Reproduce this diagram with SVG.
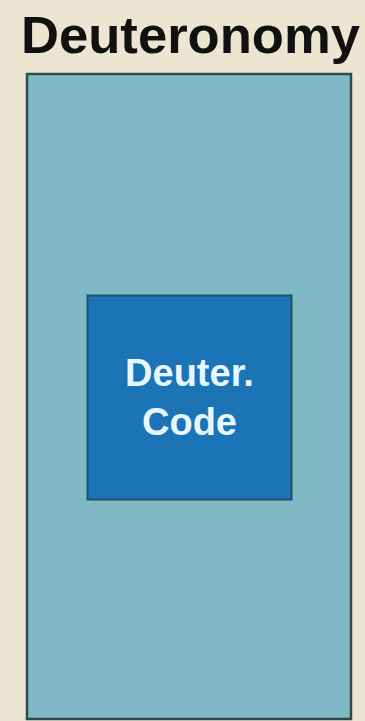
<svg xmlns="http://www.w3.org/2000/svg" width="365" height="721" viewBox="0 0 365 721">
<style>
.title{font-family:"Liberation Sans",Arial,sans-serif;font-weight:bold;fill:#111;}
.lbl{font-family:"Liberation Sans",Arial,sans-serif;font-weight:bold;fill:#E6F7FF;text-anchor:middle;}
</style>
<rect x="0" y="0" width="365" height="721" fill="#ECE5D1"/>
<text class="title" x="21" y="53" font-size="52" textLength="339" lengthAdjust="spacingAndGlyphs">Deuteronomy</text>
<g id="deuteronomy">
<rect x="27" y="74" width="324" height="645" fill="#80B8C5" stroke="#2E4A4C" stroke-width="2.5"/>
</g>
<g id="deuter-code">
<rect x="87.5" y="295.5" width="204" height="204" fill="#1A74B5" stroke="#1E4E70" stroke-width="2"/>
<text class="lbl" x="189.5" y="386" font-size="38">Deuter.</text>
<text class="lbl" x="189.5" y="435" font-size="38">Code</text>
</g>
<g id="connectors"/>
</svg>
